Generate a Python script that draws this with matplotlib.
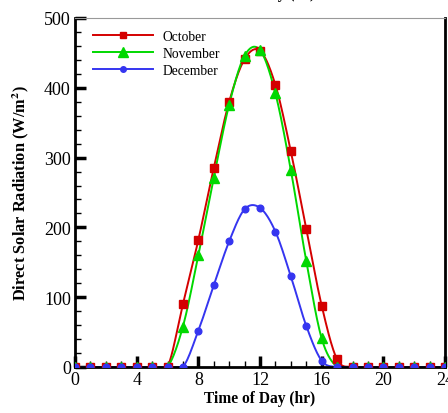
import numpy as np
import matplotlib
matplotlib.use("Agg")
import matplotlib.pyplot as plt
from matplotlib.ticker import MultipleLocator

plt.rcParams['font.family'] = ['Liberation Serif', 'DejaVu Serif']
plt.rcParams['mathtext.fontset'] = 'stix'

# ----------------------------
# DATA
# ----------------------------
hours = list(range(0, 25))
october = [0, 0, 0, 0, 0, 0, 0, 90, 182, 285, 380, 441, 453, 404, 309, 198, 88, 11,
           0, 0, 0, 0, 0, 0, 0]
november = [0, 0, 0, 0, 0, 0, 0, 58, 160, 271, 376, 446, 454, 392, 282, 152, 41, 0,
            0, 0, 0, 0, 0, 0, 0]
december = [0, 0, 0, 0, 0, 0, 0, 0, 52, 117, 180, 226, 228, 194, 130, 59, 9, 0,
            0, 0, 0, 0, 0, 0, 0]


def smooth(x, y, n=20):
    # catmull-rom curve through the points, only used to draw the line
    x = np.asarray(x, float)
    y = np.asarray(y, float)
    m = np.gradient(y, x)
    xs, ys = [], []
    for i in range(len(x) - 1):
        t = np.linspace(0, 1, n, endpoint=False)
        h = x[i + 1] - x[i]
        h00 = 2 * t**3 - 3 * t**2 + 1
        h10 = t**3 - 2 * t**2 + t
        h01 = -2 * t**3 + 3 * t**2
        h11 = t**3 - t**2
        xs.append(x[i] + t * h)
        ys.append(h00 * y[i] + h10 * h * m[i] + h01 * y[i + 1] + h11 * h * m[i + 1])
    xs.append([x[-1]])
    ys.append([y[-1]])
    return np.concatenate(xs), np.clip(np.concatenate(ys), 0, None)


fig = plt.figure(figsize=(4.48, 4.14), dpi=100)
ax = fig.add_axes([75 / 448, 46 / 414, 370 / 448, 349 / 414])

series = [
    (october, 'October', '#d40000', 's', 5.5, 5),
    (november, 'November', '#00d800', '^', 7, 6.5),
    (december, 'December', '#3535f0', 'o', 4.8, 4),
]
for vals, name, col, mk, ms, ms_leg in series:
    xs, ys = smooth(hours, vals)
    ax.plot(xs, ys, color=col, lw=1.4, zorder=2)
    ax.plot(hours, vals, linestyle='none', marker=mk, color=col, ms=ms, zorder=3)
    ax.plot([], [], color=col, lw=1.4, marker=mk, ms=ms_leg, label=name)

ax.set_xlim(0, 24)
ax.set_ylim(0, 500)
ax.xaxis.set_major_locator(MultipleLocator(4))
ax.xaxis.set_minor_locator(MultipleLocator(1))
ax.yaxis.set_major_locator(MultipleLocator(100))
ax.yaxis.set_minor_locator(MultipleLocator(20))
ax.tick_params(which='major', direction='in', length=8, width=2.5, labelsize=13, pad=3)
ax.tick_params(which='minor', direction='in', length=4, width=1)
ax.tick_params(top=False, right=False, which='both')

for s in ['left', 'bottom', 'right']:
    ax.spines[s].set_linewidth(2)
ax.spines['top'].set_linewidth(0.8)
ax.spines['top'].set_color('#999999')

ax.set_xlabel('Time of Day (hr)', fontsize=11.2, fontweight='bold', labelpad=1)
ax.set_ylabel('Direct Solar Radiation (W/m$^{\\mathbf{2}}$)', fontsize=11.8,
              fontweight='bold', labelpad=9)

ax.legend(loc='upper left', bbox_to_anchor=(0.034, 0.982), frameon=False, fontsize=9.8,
          handlelength=4.4, handletextpad=0.7, labelspacing=0.3, borderaxespad=0)

# title cut off at the top edge of the image
fig.text(260 / 448, 1 + 2 / 414, 'Time of Day (hr)', fontsize=11.2, fontweight='bold',
         ha='center', va='baseline')

fig.savefig('out.png', dpi=100)
